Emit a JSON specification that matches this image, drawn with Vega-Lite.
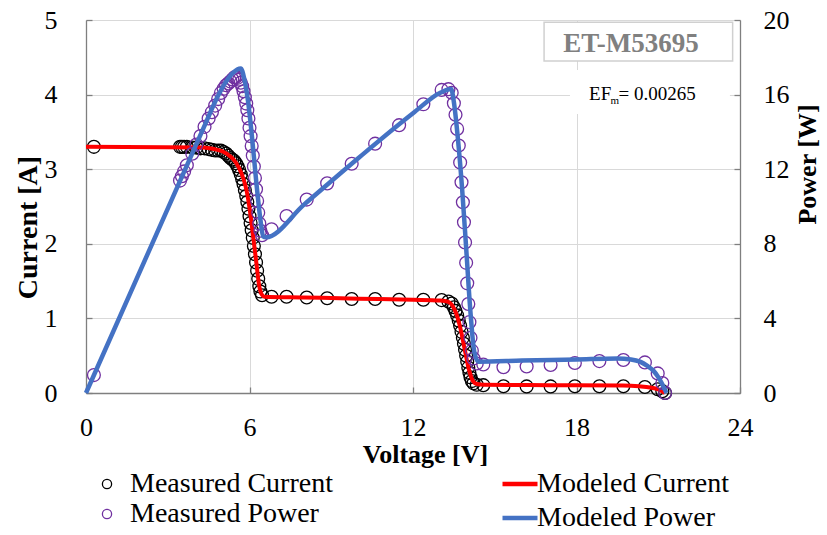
{
  "$schema": "https://vega.github.io/schema/vega-lite/v6.json",
  "width": 654,
  "height": 373,
  "autosize": "none",
  "padding": {"left": 86, "top": 20, "right": 87, "bottom": 142},
  "background": "white",
  "config": {
    "view": {"stroke": null},
    "font": "Liberation Serif",
    "axis": {
      "labelFont": "Liberation Serif",
      "titleFont": "Liberation Serif",
      "labelFontSize": 26,
      "titleFontSize": 26,
      "labelColor": "#000000",
      "titleColor": "#000000",
      "titleFontWeight": "bold",
      "gridColor": "#D9D9D9",
      "gridWidth": 1,
      "domainColor": "#7F7F7F",
      "domainWidth": 1.3,
      "tickColor": "#7F7F7F",
      "tickWidth": 1.3,
      "tickSize": -6,
      "labelFlush": false,
      "format": "d"
    },
    "legend": {
      "labelFont": "Liberation Serif",
      "labelFontSize": 28,
      "labelColor": "#000000",
      "labelLimit": 0,
      "padding": 0
    }
  },
  "datasets": {
    "meas": [
      {"V": 0.29, "I": 3.30, "P": 0.96},
      {"V": 3.45, "I": 3.30, "P": 11.39},
      {"V": 3.52, "I": 3.30, "P": 11.62},
      {"V": 3.60, "I": 3.30, "P": 11.88},
      {"V": 3.70, "I": 3.30, "P": 12.21},
      {"V": 3.90, "I": 3.29, "P": 12.83},
      {"V": 4.05, "I": 3.29, "P": 13.32},
      {"V": 4.20, "I": 3.28, "P": 13.78},
      {"V": 4.35, "I": 3.28, "P": 14.27},
      {"V": 4.50, "I": 3.27, "P": 14.72},
      {"V": 4.62, "I": 3.26, "P": 15.06},
      {"V": 4.74, "I": 3.25, "P": 15.41},
      {"V": 4.85, "I": 3.25, "P": 15.76},
      {"V": 4.95, "I": 3.25, "P": 16.09},
      {"V": 5.05, "I": 3.23, "P": 16.31},
      {"V": 5.14, "I": 3.21, "P": 16.50},
      {"V": 5.22, "I": 3.18, "P": 16.60},
      {"V": 5.30, "I": 3.15, "P": 16.70},
      {"V": 5.37, "I": 3.13, "P": 16.81},
      {"V": 5.44, "I": 3.11, "P": 16.92},
      {"V": 5.50, "I": 3.08, "P": 16.94},
      {"V": 5.56, "I": 3.04, "P": 16.90},
      {"V": 5.62, "I": 2.99, "P": 16.80},
      {"V": 5.68, "I": 2.93, "P": 16.64},
      {"V": 5.73, "I": 2.87, "P": 16.45},
      {"V": 5.78, "I": 2.80, "P": 16.18},
      {"V": 5.83, "I": 2.72, "P": 15.86},
      {"V": 5.88, "I": 2.64, "P": 15.52},
      {"V": 5.92, "I": 2.56, "P": 15.16},
      {"V": 5.96, "I": 2.47, "P": 14.72},
      {"V": 6.00, "I": 2.37, "P": 14.22},
      {"V": 6.04, "I": 2.28, "P": 13.77},
      {"V": 6.08, "I": 2.18, "P": 13.25},
      {"V": 6.12, "I": 2.08, "P": 12.73},
      {"V": 6.16, "I": 1.97, "P": 12.14},
      {"V": 6.20, "I": 1.86, "P": 11.53},
      {"V": 6.24, "I": 1.75, "P": 10.92},
      {"V": 6.28, "I": 1.64, "P": 10.30},
      {"V": 6.32, "I": 1.53, "P": 9.67},
      {"V": 6.36, "I": 1.43, "P": 9.09},
      {"V": 6.40, "I": 1.36, "P": 8.70},
      {"V": 6.46, "I": 1.31, "P": 8.46},
      {"V": 6.81, "I": 1.29, "P": 8.78},
      {"V": 7.36, "I": 1.29, "P": 9.49},
      {"V": 8.10, "I": 1.28, "P": 10.37},
      {"V": 8.85, "I": 1.27, "P": 11.24},
      {"V": 9.75, "I": 1.26, "P": 12.29},
      {"V": 10.61, "I": 1.26, "P": 13.37},
      {"V": 11.49, "I": 1.25, "P": 14.36},
      {"V": 12.38, "I": 1.25, "P": 15.48},
      {"V": 13.05, "I": 1.245, "P": 16.25},
      {"V": 13.30, "I": 1.225, "P": 16.29},
      {"V": 13.42, "I": 1.20, "P": 16.10},
      {"V": 13.50, "I": 1.15, "P": 15.53},
      {"V": 13.56, "I": 1.10, "P": 14.92},
      {"V": 13.62, "I": 1.04, "P": 14.16},
      {"V": 13.68, "I": 0.97, "P": 13.27},
      {"V": 13.73, "I": 0.90, "P": 12.36},
      {"V": 13.78, "I": 0.82, "P": 11.30},
      {"V": 13.83, "I": 0.74, "P": 10.23},
      {"V": 13.87, "I": 0.66, "P": 9.15},
      {"V": 13.91, "I": 0.58, "P": 8.07},
      {"V": 13.95, "I": 0.50, "P": 6.98},
      {"V": 13.99, "I": 0.42, "P": 5.88},
      {"V": 14.03, "I": 0.34, "P": 4.77},
      {"V": 14.07, "I": 0.27, "P": 3.80},
      {"V": 14.11, "I": 0.21, "P": 2.96},
      {"V": 14.16, "I": 0.16, "P": 2.27},
      {"V": 14.22, "I": 0.13, "P": 1.85},
      {"V": 14.34, "I": 0.11, "P": 1.58},
      {"V": 14.58, "I": 0.105, "P": 1.53},
      {"V": 15.32, "I": 0.09, "P": 1.38},
      {"V": 16.17, "I": 0.088, "P": 1.42},
      {"V": 17.05, "I": 0.088, "P": 1.50},
      {"V": 17.94, "I": 0.09, "P": 1.61},
      {"V": 18.84, "I": 0.091, "P": 1.71},
      {"V": 19.72, "I": 0.09, "P": 1.77},
      {"V": 20.51, "I": 0.08, "P": 1.64},
      {"V": 20.98, "I": 0.05, "P": 1.05},
      {"V": 21.15, "I": 0.025, "P": 0.53},
      {"V": 21.25, "I": 0.0, "P": 0.0}
    ],
    "modelI": [
      {"V": 0, "I": 3.30},
      {"V": 4.3, "I": 3.29},
      {"V": 4.7, "I": 3.27},
      {"V": 5.0, "I": 3.24},
      {"V": 5.3, "I": 3.17},
      {"V": 5.5, "I": 3.09},
      {"V": 5.7, "I": 2.95},
      {"V": 5.85, "I": 2.78},
      {"V": 5.95, "I": 2.6},
      {"V": 6.05, "I": 2.35},
      {"V": 6.15, "I": 2.05},
      {"V": 6.25, "I": 1.75},
      {"V": 6.35, "I": 1.45},
      {"V": 6.45, "I": 1.32},
      {"V": 6.55, "I": 1.29},
      {"V": 8.0, "I": 1.28},
      {"V": 10.0, "I": 1.265},
      {"V": 12.0, "I": 1.25},
      {"V": 13.0, "I": 1.24},
      {"V": 13.3, "I": 1.22},
      {"V": 13.45, "I": 1.17},
      {"V": 13.6, "I": 1.05},
      {"V": 13.75, "I": 0.85},
      {"V": 13.9, "I": 0.58},
      {"V": 14.05, "I": 0.32},
      {"V": 14.2, "I": 0.16},
      {"V": 14.35, "I": 0.12},
      {"V": 14.6, "I": 0.11},
      {"V": 17.0, "I": 0.105},
      {"V": 19.7, "I": 0.1},
      {"V": 20.3, "I": 0.09},
      {"V": 20.7, "I": 0.075},
      {"V": 21.0, "I": 0.05},
      {"V": 21.25, "I": 0}
    ],
    "modelP": [
      {"V": 0, "P": 0},
      {"V": 4.4, "P": 14.5},
      {"V": 4.8, "P": 15.8},
      {"V": 5.1, "P": 16.6},
      {"V": 5.35, "P": 17.1},
      {"V": 5.55, "P": 17.35},
      {"V": 5.68, "P": 17.4},
      {"V": 5.8, "P": 16.9},
      {"V": 5.95, "P": 15.6},
      {"V": 6.1, "P": 13.6},
      {"V": 6.25, "P": 11.3},
      {"V": 6.4, "P": 9.3},
      {"V": 6.5, "P": 8.4},
      {"V": 6.6, "P": 8.35},
      {"V": 8.0, "P": 10.1},
      {"V": 10.0, "P": 12.6},
      {"V": 12.0, "P": 15.0},
      {"V": 13.0, "P": 16.1},
      {"V": 13.4, "P": 16.3},
      {"V": 13.5, "P": 15.6},
      {"V": 13.65, "P": 13.6},
      {"V": 13.8, "P": 11.0},
      {"V": 13.95, "P": 7.8},
      {"V": 14.1, "P": 4.5},
      {"V": 14.25, "P": 2.2},
      {"V": 14.4, "P": 1.68},
      {"V": 16.0, "P": 1.74},
      {"V": 18.0, "P": 1.8},
      {"V": 19.5, "P": 1.85},
      {"V": 20.0, "P": 1.8},
      {"V": 20.33, "P": 1.68},
      {"V": 20.6, "P": 1.45},
      {"V": 20.82, "P": 1.2},
      {"V": 21.0, "P": 0.85},
      {"V": 21.13, "P": 0.52},
      {"V": 21.3, "P": 0}
    ]
  },
  "layer": [
    {
      "layer": [
        {
          "data": {"name": "meas"},
          "mark": {"type": "point", "filled": false, "size": 165, "strokeWidth": 1.3, "opacity": 1},
          "encoding": {
            "x": {
              "field": "V", "type": "quantitative",
              "scale": {"domain": [0, 24], "nice": false},
              "axis": {
                "values": [0, 6, 12, 18, 24],
                "title": "Voltage [V]",
                "grid": true,
                "labelPadding": 27,
                "titleX": 339,
                "titleY": 69,
                "titleAlign": "center",
                "titleBaseline": "alphabetic"
              }
            },
            "y": {
              "field": "I", "type": "quantitative",
              "scale": {"domain": [0, 5], "nice": false},
              "axis": {
                "values": [0, 1, 2, 3, 4, 5],
                "title": "Current [A]",
                "grid": true,
                "labelPadding": 35,
                "titleAngle": 270,
                "titleX": -58,
                "titleY": 207,
                "titleAlign": "center",
                "titleBaseline": "middle",
                "titleFontSize": 28
              }
            },
            "stroke": {
              "datum": "Measured Current", "type": "nominal",
              "scale": {"domain": ["Measured Current", "Measured Power"], "range": ["#000000", "#7030A0"]},
              "legend": {
                "orient": "none",
                "legendX": 7,
                "legendY": 450,
                "title": null,
                "direction": "vertical",
                "symbolType": "circle",
                "symbolSize": 85,
                "symbolStrokeWidth": 1.3,
                "labelOffset": 9,
                "rowPadding": 2
              }
            }
          }
        },
        {
          "data": {"name": "modelI"},
          "mark": {"type": "line", "strokeWidth": 4, "interpolate": "monotone"},
          "encoding": {
            "x": {"field": "V", "type": "quantitative"},
            "y": {"field": "I", "type": "quantitative"},
            "color": {
              "datum": "Modeled Current", "type": "nominal",
              "scale": {"domain": ["Modeled Current", "Modeled Power"], "range": ["#FF0000", "#4472C4"]},
              "legend": {
                "orient": "none",
                "legendX": 414,
                "legendY": 444,
                "title": null,
                "direction": "vertical",
                "symbolType": "stroke",
                "symbolSize": 1225,
                "symbolStrokeWidth": 4.5,
                "labelOffset": -3,
                "rowPadding": -5
              }
            }
          }
        },
        {
          "data": {"values": [{}]},
          "mark": {"type": "rect", "fill": "white", "stroke": "#D0D0D0", "strokeWidth": 1.5},
          "encoding": {
            "x": {"datum": 16.81, "type": "quantitative"},
            "x2": {"datum": 23.73},
            "y": {"datum": 4.97, "type": "quantitative"},
            "y2": {"datum": 4.45}
          }
        },
        {
          "data": {"values": [{}]},
          "mark": {"type": "rect", "fill": "white", "strokeWidth": 0},
          "encoding": {
            "x": {"datum": 17.76, "type": "quantitative"},
            "x2": {"datum": 23.63},
            "y": {"datum": 4.33, "type": "quantitative"},
            "y2": {"datum": 3.74}
          }
        },
        {
          "data": {"values": [{}]},
          "mark": {"type": "text", "text": "ET-M53695", "font": "Liberation Serif", "fontSize": 27, "fontWeight": "bold", "color": "#808080", "align": "center", "baseline": "alphabetic"},
          "encoding": {
            "x": {"datum": 20.0, "type": "quantitative"},
            "y": {"datum": 4.567, "type": "quantitative"}
          }
        },
        {
          "data": {"values": [{}]},
          "mark": {"type": "text", "text": "EF", "font": "Liberation Serif", "fontSize": 19, "color": "#000000", "align": "left", "baseline": "alphabetic"},
          "encoding": {
            "x": {"datum": 18.46, "type": "quantitative"},
            "y": {"datum": 3.928, "type": "quantitative"}
          }
        },
        {
          "data": {"values": [{}]},
          "mark": {"type": "text", "text": "m", "font": "Liberation Serif", "fontSize": 11, "color": "#000000", "align": "left", "baseline": "alphabetic"},
          "encoding": {
            "x": {"datum": 19.25, "type": "quantitative"},
            "y": {"datum": 3.874, "type": "quantitative"}
          }
        },
        {
          "data": {"values": [{}]},
          "mark": {"type": "text", "text": "= 0.00265", "font": "Liberation Serif", "fontSize": 19, "color": "#000000", "align": "left", "baseline": "alphabetic"},
          "encoding": {
            "x": {"datum": 19.54, "type": "quantitative"},
            "y": {"datum": 3.928, "type": "quantitative"}
          }
        }
      ]
    },
    {
      "layer": [
        {
          "data": {"name": "meas"},
          "mark": {"type": "point", "filled": false, "size": 165, "strokeWidth": 1.3, "opacity": 1},
          "encoding": {
            "x": {"field": "V", "type": "quantitative"},
            "y": {
              "field": "P", "type": "quantitative",
              "scale": {"domain": [0, 20], "nice": false},
              "axis": {
                "orient": "right",
                "values": [0, 4, 8, 12, 16, 20],
                "title": "Power [W]",
                "grid": false,
                "labelPadding": 29,
                "titleAngle": 270,
                "titleX": 67,
                "titleY": 144,
                "titleAlign": "center",
                "titleBaseline": "middle"
              }
            },
            "stroke": {"datum": "Measured Power", "type": "nominal"}
          }
        },
        {
          "data": {"name": "modelP"},
          "mark": {"type": "line", "strokeWidth": 4.5, "interpolate": "monotone"},
          "encoding": {
            "x": {"field": "V", "type": "quantitative"},
            "y": {"field": "P", "type": "quantitative"},
            "color": {"datum": "Modeled Power", "type": "nominal"}
          }
        }
      ]
    }
  ],
  "resolve": {"scale": {"y": "independent"}}
}
